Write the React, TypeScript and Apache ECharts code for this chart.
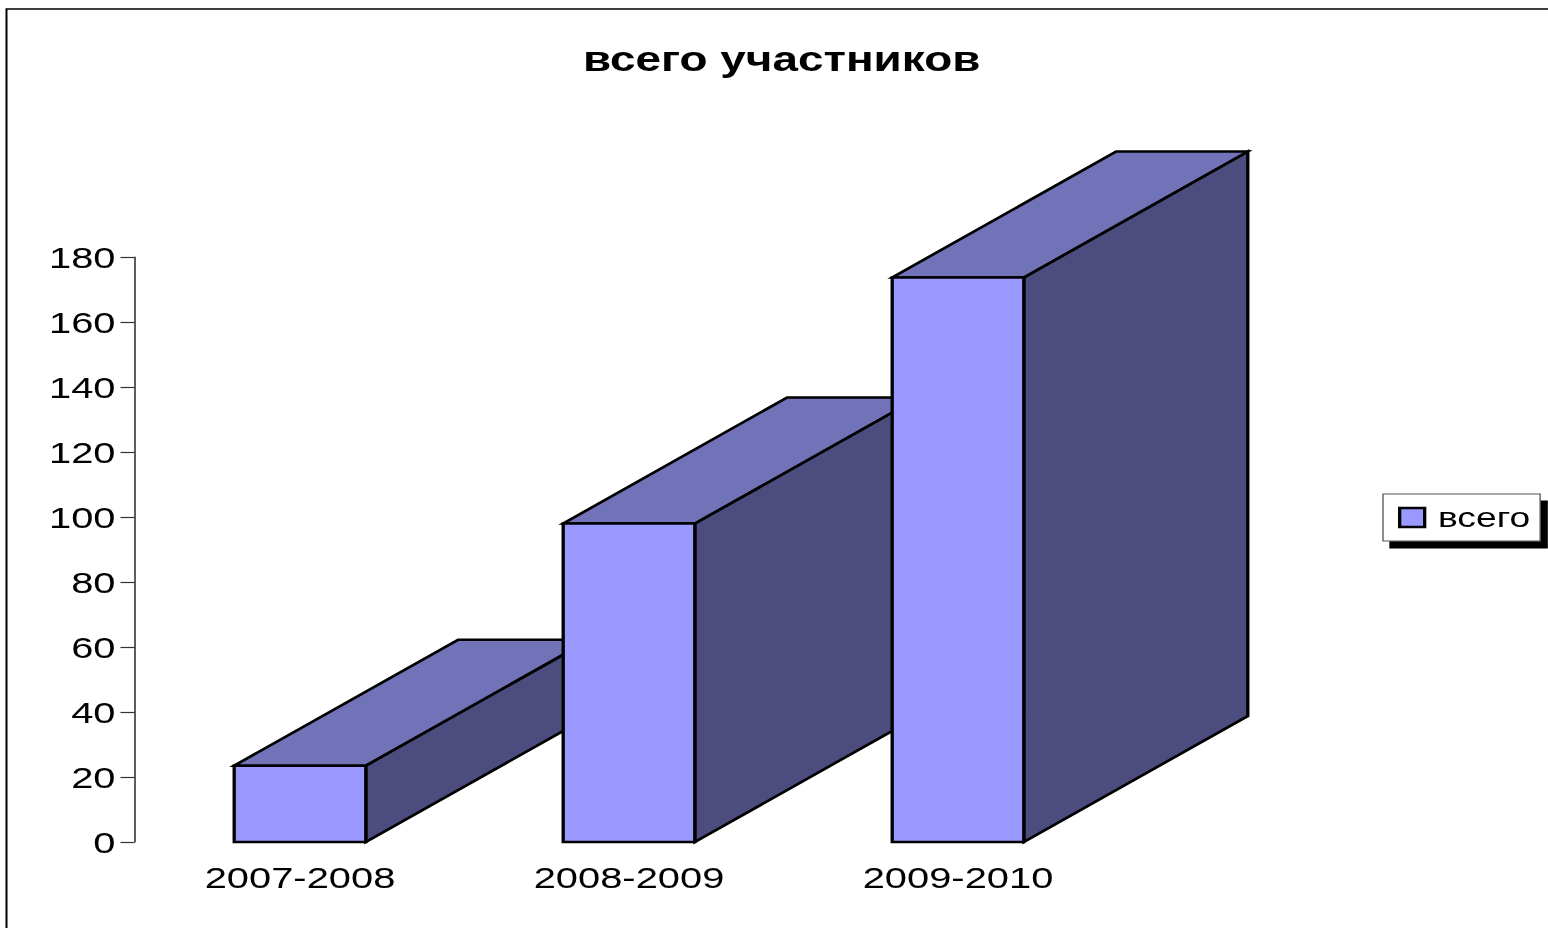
import React, { useEffect, useRef } from "react";
import * as echarts from "echarts";

const titleText = "всего участников";
const seriesName = "всего";
const categories = ["2007-2008", "2008-2009", "2009-2010"];
const values = [23.5, 98, 173.7];

// The reference is a horizontally stretched picture: draw narrower and stretch the page.
const SX = 1.33;
const W = 1548 / SX;
const px = (x: number) => x / SX;

const FONT = "'Liberation Sans', Arial, sans-serif";
const FRONT = "#9999FF";
const TOP = "#7272B8";
const SIDE = "#4C4C7F";
const DEPTH_X = px(224);
const DEPTH_Y = 126;

function renderBar(_params: any, api: any) {
  const cat = api.value(0);
  const [cx, yTop] = api.coord([cat, api.value(1)]);
  const [, yBase] = api.coord([cat, 0]);
  const w = api.size([1, 0])[0] * 0.4;
  const l = cx - w / 2;
  const r = cx + w / 2;
  const stroke = { stroke: "#000", lineWidth: 2.5, lineJoin: "miter" };
  return {
    type: "group",
    children: [
      {
        type: "polygon",
        shape: { points: [[r, yTop], [r + DEPTH_X, yTop - DEPTH_Y], [r + DEPTH_X, yBase - DEPTH_Y], [r, yBase]] },
        style: { fill: SIDE, ...stroke },
      },
      {
        type: "polygon",
        shape: { points: [[l, yTop], [l + DEPTH_X, yTop - DEPTH_Y], [r + DEPTH_X, yTop - DEPTH_Y], [r, yTop]] },
        style: { fill: TOP, ...stroke },
      },
      {
        type: "polygon",
        shape: { points: [[l, yTop], [r, yTop], [r, yBase], [l, yBase]] },
        style: { fill: FRONT, ...stroke },
      },
    ],
  };
}

export default function App() {
  const ref = useRef<HTMLDivElement>(null);
  useEffect(() => {
    document.body.style.margin = "0";
    const chart = echarts.init(ref.current!, null, { renderer: "svg" });
    chart.setOption({
      animation: false,
      backgroundColor: "#fff",
      title: {
        text: titleText,
        left: px(775),
        top: 37,
        textAlign: "center",
        textStyle: { fontFamily: FONT, fontWeight: "bold", fontSize: 34.5, color: "#000" },
      },
      legend: {
        data: [{ name: seriesName, icon: "rect" }],
        left: px(1383),
        top: 494,
        orient: "vertical",
        padding: [9.5, px(10), 9.5, px(15)],
        itemWidth: px(25),
        itemHeight: 19,
        backgroundColor: "#fff",
        borderColor: "#555",
        borderWidth: 1,
        shadowColor: "#000",
        shadowBlur: 0,
        shadowOffsetX: px(7),
        shadowOffsetY: 7,
        itemStyle: { color: FRONT, borderColor: "#000", borderWidth: 2.5 },
        textStyle: { fontFamily: FONT, fontSize: 28, color: "#000", padding: [0, 0, 0, 5] },
      },
      grid: { left: px(135.5), width: px(987), top: 257, height: 585 },
      xAxis: {
        type: "category",
        data: categories,
        axisLine: { show: false },
        axisTick: { show: false },
        axisLabel: { fontFamily: FONT, fontSize: 30, color: "#000", margin: 20 },
      },
      yAxis: {
        type: "value",
        min: 0,
        max: 180,
        interval: 20,
        offset: px(1),
        splitLine: { show: false },
        axisLine: { show: true, lineStyle: { color: "#333", width: 1.2 } },
        axisTick: { show: true, length: px(14), lineStyle: { color: "#333", width: 1.2 } },
        axisLabel: { fontFamily: FONT, fontSize: 30, color: "#000", margin: px(19) },
      },
      graphic: [
        {
          type: "polyline",
          silent: true,
          shape: { points: [[W + 5, 9], [px(6.5), 9], [px(6.5), 935]] },
          style: { fill: "none", stroke: "#000", lineWidth: 1.5 },
        },
      ],
      series: [
        {
          name: seriesName,
          type: "custom",
          renderItem: renderBar,
          clip: false,
          encode: { x: 0, y: 1 },
          data: values.map((v, i) => [i, v]),
          itemStyle: { color: FRONT },
        },
      ],
    });
    return () => chart.dispose();
  }, []);

  return (
    <div style={{ position: "fixed", left: 0, top: 0, width: 1548, height: 928, overflow: "hidden" }}>
      <div
        ref={ref}
        style={{ width: W, height: 928, transform: `scaleX(${SX})`, transformOrigin: "0 0" }}
      />
    </div>
  );
}
